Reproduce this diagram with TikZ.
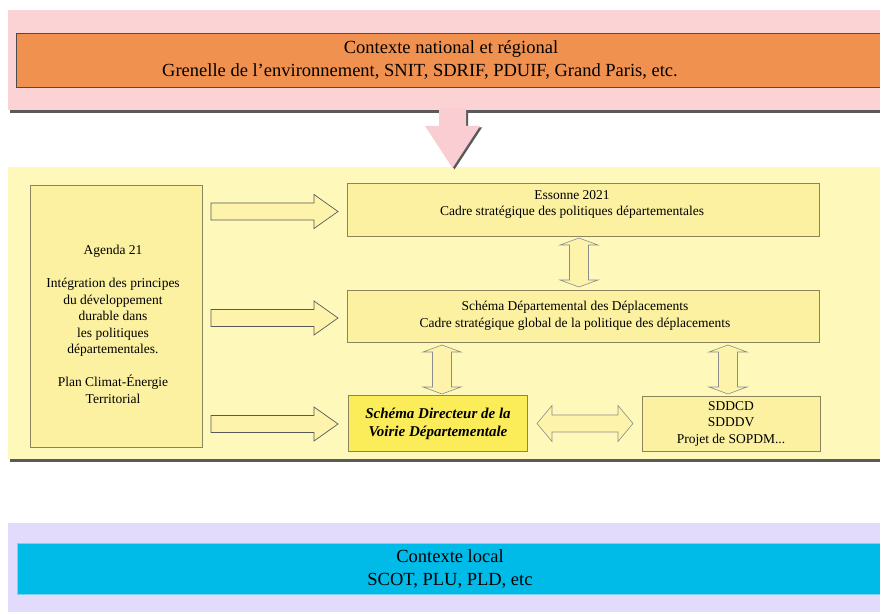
\documentclass[tikz,border=0pt]{standalone}
\usepackage{fontspec}
\setmainfont{Liberation Serif}
\definecolor{pinkband}{RGB}{251,211,213}
\definecolor{orangebox}{RGB}{241,145,80}
\definecolor{yellowband}{RGB}{254,249,187}
\definecolor{boxfill}{RGB}{252,241,160}
\definecolor{boxline}{RGB}{140,132,95}
\definecolor{sdvdfill}{RGB}{251,236,90}
\definecolor{lavband}{RGB}{227,219,252}
\definecolor{cyanbox}{RGB}{0,186,232}
\definecolor{cyanline}{RGB}{120,210,240}
\definecolor{arrowfill}{RGB}{253,243,170}
\definecolor{pinkarrow}{RGB}{250,205,210}
\definecolor{shadowc}{RGB}{90,90,90}
\begin{document}
\begin{tikzpicture}[x=1pt,y=-1pt,
  bigtxt/.style={font=\fontsize{18.5}{22.5}\selectfont, align=center, inner sep=0},
  boxtxt/.style={font=\fontsize{13.5}{16.5}\selectfont, align=center, inner sep=0},
  ybox/.style={draw=boxline, line width=0.8pt, fill=boxfill, inner sep=0, boxtxt},
  blockarrow/.style={draw=black!65, line width=0.7pt, fill=arrowfill, line join=miter},
  softarrow/.style={draw=black!45, line width=0.6pt, fill=arrowfill, line join=miter},
  rarrow/.pic={\draw[blockarrow] (0,-8.5) -- (103,-8.5) -- (103,-17) -- (127,0) -- (103,17) -- (103,8.5) -- (0,8.5) -- cycle;},
  vdarrow/.pic={\draw[softarrow] (-9.5,-17.5) -- (-19,-17.5) -- (0,-24.5) -- (19,-17.5) -- (9.5,-17.5) -- (9.5,17.5) -- (19,17.5) -- (0,24.5) -- (-19,17.5) -- (-9.5,17.5) -- cycle;},
  hdarrow/.pic={\draw[softarrow] (-33,-8.5) -- (-33,-18) -- (-48,0) -- (-33,18) -- (-33,8.5) -- (33,8.5) -- (33,18) -- (48,0) -- (33,-18) -- (33,-8.5) -- cycle;}
]
\clip (0,0) rectangle (880,612);
\fill[white] (0,0) rectangle (880,612);

% national band
\fill[shadowc] (10,13) rectangle (884,113);
\fill[pinkband] (8,10) rectangle (884,110);
\node[draw=black!70, line width=0.8pt, fill=orangebox, minimum width=868, minimum height=54, inner sep=0, anchor=north west] (natbox) at (16,33) {};
\node[bigtxt] (nattxt) at (420,60) {\hspace*{62pt}Contexte national et régional\\Grenelle de l’environnement, SNIT, SDRIF, PDUIF, Grand Paris, etc.};

% departmental band
\fill[shadowc] (10,170) rectangle (884,462);
\fill[yellowband] (8,167) rectangle (884,459);

% pink arrow
\fill[shadowc, shift={(2,1.5)}] (439,110) -- (466,110) -- (466,126) -- (480,126) -- (452.5,168) -- (425,126) -- (439,126) -- cycle;
\fill[pinkarrow] (439,108) -- (466,108) -- (466,126) -- (480,126) -- (452.5,168) -- (425,126) -- (439,126) -- cycle;

% boxes
\node[ybox, minimum width=172, minimum height=262,
  label={[boxtxt, name=agendatxt, yshift=-8.5pt, xshift=-3pt]center:{Agenda 21\\[16.5pt]Intégration des principes\\du développement\\durable dans\\les politiques\\départementales.\\[16.5pt]Plan Climat-Énergie\\Territorial}}] (agenda) at (116,316) {};
\node[ybox, minimum width=472, minimum height=53,
  label={[boxtxt, name=esstxt, yshift=5pt, xshift=-11pt]center:{Essonne 2021\\Cadre stratégique des politiques départementales}}] (ess) at (583,209.5) {};
\node[ybox, minimum width=472, minimum height=52,
  label={[boxtxt, name=sddtxt, xshift=-8pt]center:{Schéma Départemental des Déplacements\\Cadre stratégique global de la politique des déplacements}}] (sdd) at (583,316) {};
\node[ybox, fill=sdvdfill, minimum width=179, minimum height=56, font=\fontsize{15}{18}\selectfont\bfseries\itshape] (sdvd) at (438,423.5) {Schéma Directeur de la\\Voirie Départementale};
\node[ybox, minimum width=178, minimum height=55] (sddcd) at (731,423.5) {SDDCD\\SDDDV\\Projet de SOPDM...};

% block arrows
\pic at (211,211.5) {rarrow};
\pic at (211,318) {rarrow};
\pic at (211,424) {rarrow};
\pic at (579,262.5) {vdarrow};
\pic at (442,369.5) {vdarrow};
\pic at (728,369.5) {vdarrow};
\pic at (585,423.5) {hdarrow};

% local band
\fill[lavband] (8,523) rectangle (884,620);
\node[draw=cyanline, line width=0.8pt, fill=cyanbox, minimum width=868, minimum height=51, inner sep=0, anchor=north west] (locbox) at (17,543) {};
\node[bigtxt] (loctxt) at (450,569) {Contexte local\\SCOT, PLU, PLD, etc};
\end{tikzpicture}
\end{document}
